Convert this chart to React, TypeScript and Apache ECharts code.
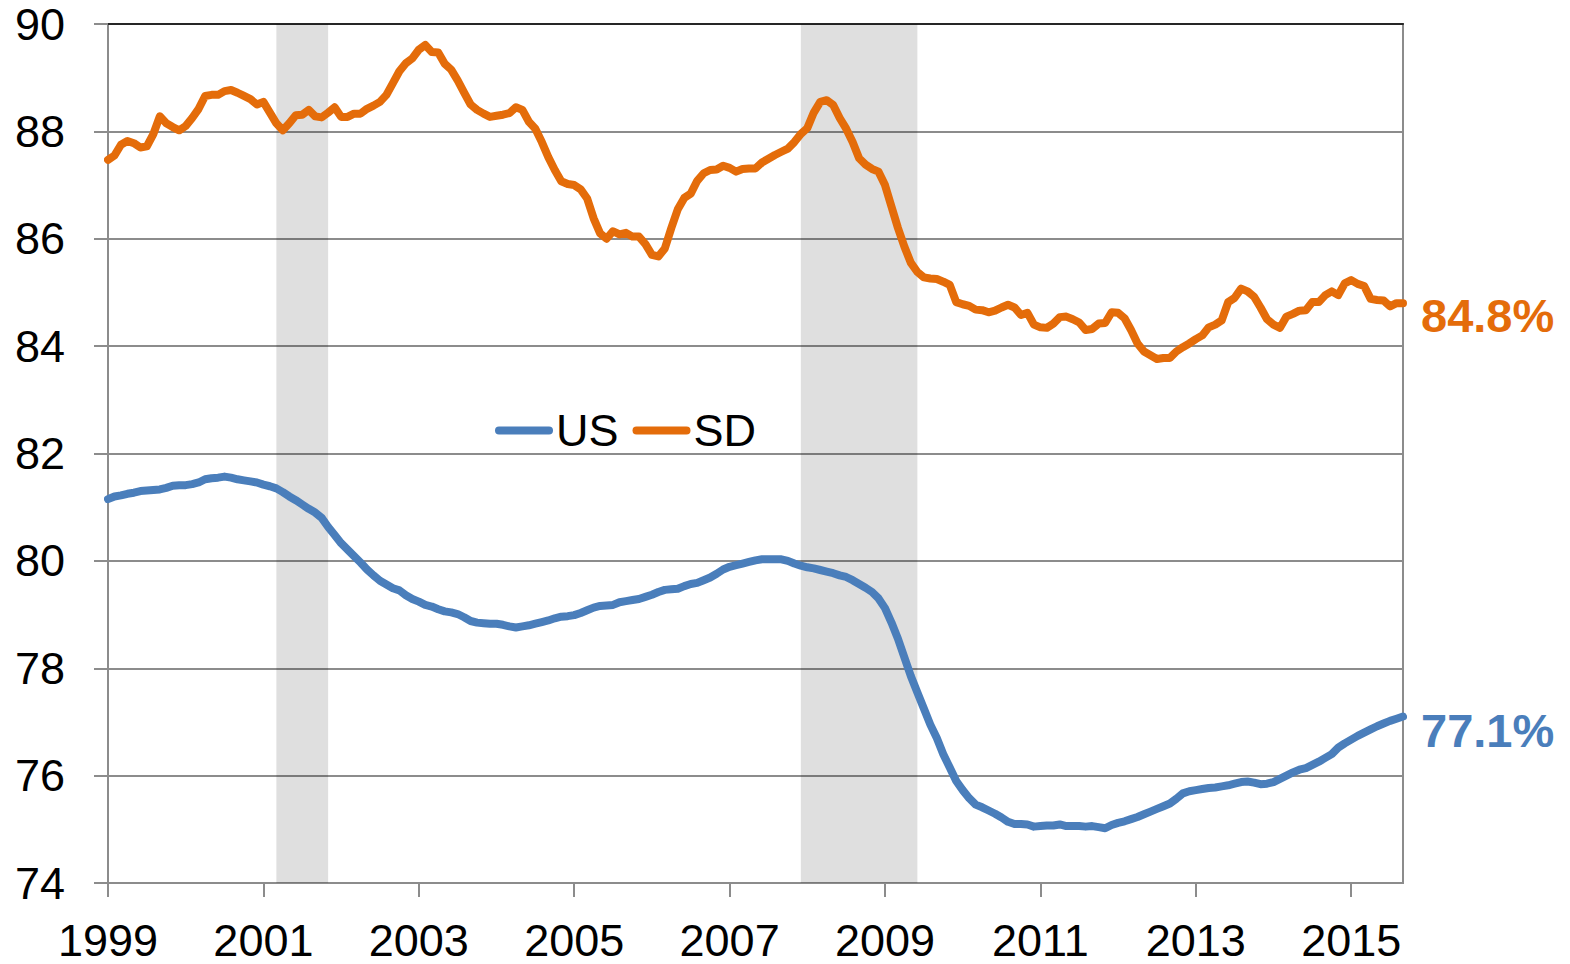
import React, { useEffect, useRef } from "react";
import * as echarts from "echarts";

// Monthly observations, Jan 1999 .. Sep 2015
const startYear = 1999;
const monthCount = 201;
const categories: string[] = [];
for (let i = 0; i < monthCount; i++) {
  const y = startYear + Math.floor(i / 12);
  const m = (i % 12) + 1;
  categories.push(`${y}-${String(m).padStart(2, "0")}`);
}

const usValues: number[] = [
  81.15, 81.2, 81.22, 81.25, 81.27, 81.3, 81.31, 81.32, 81.33, 81.36, 81.4, 81.41,
  81.41, 81.43, 81.46, 81.52, 81.54, 81.55, 81.57, 81.55, 81.52, 81.5, 81.48, 81.46,
  81.42, 81.39, 81.35, 81.28, 81.2, 81.13, 81.05, 80.97, 80.9, 80.8, 80.63, 80.48,
  80.33, 80.21, 80.09, 79.97, 79.84, 79.73, 79.63, 79.56, 79.49, 79.45, 79.36, 79.29,
  79.24, 79.18, 79.15, 79.1, 79.06, 79.04, 79.01, 78.95, 78.88, 78.85, 78.84, 78.83,
  78.83, 78.81, 78.78, 78.76, 78.78, 78.8, 78.83, 78.86, 78.89, 78.93, 78.96, 78.97,
  78.99, 79.03, 79.08, 79.13, 79.16, 79.17, 79.18, 79.23, 79.25, 79.27, 79.29, 79.33,
  79.37, 79.42, 79.46, 79.47, 79.48, 79.53, 79.57, 79.59, 79.64, 79.69, 79.76, 79.84,
  79.89, 79.92, 79.95, 79.98, 80.01, 80.03, 80.03, 80.03, 80.03, 80.0, 79.95, 79.91,
  79.88, 79.86, 79.83, 79.8, 79.77, 79.73, 79.7, 79.64, 79.57, 79.5, 79.42, 79.3,
  79.12, 78.85, 78.55, 78.2, 77.85, 77.55, 77.25, 76.95, 76.7, 76.4, 76.15, 75.9,
  75.73, 75.58, 75.46, 75.41, 75.35, 75.29, 75.22, 75.14, 75.1, 75.1, 75.09, 75.05,
  75.06, 75.07, 75.07, 75.09, 75.06, 75.06, 75.06, 75.05, 75.06, 75.04, 75.02, 75.08,
  75.12, 75.15, 75.19, 75.23, 75.28, 75.33, 75.38, 75.43, 75.48, 75.57, 75.67, 75.71,
  75.73, 75.75, 75.77, 75.78, 75.8, 75.82, 75.85, 75.88, 75.89, 75.87, 75.84, 75.85,
  75.88, 75.94, 76.0, 76.06, 76.11, 76.14, 76.2, 76.26, 76.33, 76.4, 76.52, 76.6,
  76.67, 76.74, 76.8, 76.86, 76.92, 76.97, 77.02, 77.06, 77.1,
];

const sdValues: number[] = [
  87.47, 87.55, 87.75, 87.82, 87.78, 87.7, 87.72, 87.95, 88.28, 88.15, 88.08, 88.02,
  88.1, 88.25, 88.42, 88.66, 88.68, 88.68, 88.75, 88.77, 88.72, 88.66, 88.6, 88.5,
  88.55, 88.35, 88.15, 88.02, 88.15, 88.3, 88.31, 88.4, 88.28, 88.26, 88.35, 88.45,
  88.27, 88.27, 88.33, 88.33, 88.42, 88.48, 88.55, 88.68, 88.9, 89.12, 89.27, 89.36,
  89.52, 89.61, 89.48, 89.47, 89.26, 89.15, 88.95, 88.72, 88.5, 88.4, 88.33, 88.27,
  88.29, 88.31, 88.34, 88.45, 88.4, 88.18, 88.05, 87.8, 87.52, 87.28, 87.07, 87.02,
  87.0, 86.92, 86.75, 86.38, 86.1, 86.0, 86.14, 86.08, 86.11, 86.04, 86.04, 85.9,
  85.7, 85.67, 85.82, 86.2, 86.55, 86.76, 86.84, 87.08, 87.22, 87.28, 87.29, 87.36,
  87.32, 87.25, 87.3, 87.31, 87.31, 87.42, 87.49, 87.56, 87.62, 87.68, 87.8, 87.95,
  88.06, 88.35, 88.55, 88.58, 88.49, 88.25, 88.05, 87.8, 87.5, 87.38, 87.3, 87.25,
  87.0, 86.6, 86.2, 85.85, 85.55, 85.38, 85.28, 85.26, 85.25, 85.2, 85.14, 84.82,
  84.78, 84.75, 84.68, 84.67, 84.63, 84.66, 84.72, 84.77, 84.72, 84.58, 84.62, 84.4,
  84.35, 84.34, 84.42, 84.54, 84.55, 84.5, 84.44, 84.3, 84.32, 84.42, 84.43, 84.63,
  84.62, 84.52, 84.3, 84.05, 83.9, 83.83, 83.76, 83.78, 83.78, 83.9, 83.98, 84.05,
  84.13, 84.2, 84.35, 84.4, 84.48, 84.82, 84.9, 85.07, 85.02, 84.92, 84.72, 84.5,
  84.4, 84.34, 84.55, 84.6, 84.66, 84.67, 84.82, 84.82, 84.95, 85.02, 84.95, 85.17,
  85.23, 85.16, 85.12, 84.88, 84.86, 84.85, 84.74, 84.8, 84.8,
];

const recessions: [string, string][] = [
  ["2001-03", "2001-11"],
  ["2007-12", "2009-06"],
];

const yTicks = { min: 74, max: 90, interval: 2 };

const FONT = '"Liberation Sans", Arial, sans-serif';
const BLUE = "#4a7ebb";
const ORANGE = "#e46c0a";
const GRID_GRAY = "#8c8c8c";

export default function App() {
  const ref = useRef<HTMLDivElement>(null);

  useEffect(() => {
    if (!ref.current) return;
    const chart = echarts.init(ref.current, null, { renderer: "svg" });
    const yearTick = (index: number) => index % 24 === 0;
    const capsule = "path://M4,0 L54,0 A4,4 0 0 1 54,8 L4,8 A4,4 0 0 1 4,0 Z";

    chart.setOption({
      animation: false,
      backgroundColor: "#ffffff",
      grid: {
        left: 108,
        right: 167,
        top: 24,
        bottom: 81,
        show: true,
        borderColor: GRID_GRAY,
        borderWidth: 2,
        containLabel: false,
      },
      legend: {
        left: 490,
        top: 403,
        itemWidth: 58,
        itemHeight: 8,
        itemGap: 14,
        data: [
          { name: "US", icon: capsule },
          { name: "SD", icon: capsule },
        ],
        textStyle: { fontFamily: FONT, fontSize: 45, color: "#000", padding: [0, 0, 0, -2] },
      },
      xAxis: [
        {
          type: "category",
          data: categories,
          boundaryGap: false,
          axisLine: { lineStyle: { color: GRID_GRAY, width: 2 } },
          axisTick: {
            show: true,
            interval: yearTick,
            length: 14,
            lineStyle: { color: GRID_GRAY, width: 2 },
          },
          axisLabel: {
            interval: yearTick,
            formatter: (v: string) => v.slice(0, 4),
            fontFamily: FONT,
            fontSize: 45,
            lineHeight: 34,
            color: "#000",
            margin: 40,
          },
          splitLine: { show: false },
        },
        {
          type: "category",
          data: categories,
          boundaryGap: false,
          position: "top",
          axisLine: { lineStyle: { color: "#262626", width: 2 } },
          axisTick: { show: false },
          axisLabel: { show: false },
          splitLine: { show: false },
        },
      ],
      yAxis: {
        type: "value",
        min: yTicks.min,
        max: yTicks.max,
        interval: yTicks.interval,
        axisLine: { show: true, lineStyle: { color: GRID_GRAY, width: 2 } },
        axisTick: { show: true, length: 14, lineStyle: { color: GRID_GRAY, width: 2 } },
        axisLabel: { fontFamily: FONT, fontSize: 45, lineHeight: 34, color: "#000", margin: 43 },
        splitLine: { lineStyle: { color: GRID_GRAY, width: 2 } },
      },
      series: [
        {
          name: "US",
          type: "line",
          data: usValues,
          symbol: "none",
          z: 3,
          lineStyle: { color: BLUE, width: 8, cap: "round", join: "round" },
          itemStyle: { color: BLUE },
          endLabel: {
            show: true,
            formatter: (p: any) => `${Number(p.value).toFixed(1)}%`,
            color: BLUE,
            fontFamily: FONT,
            fontWeight: "bold",
            fontSize: 47,
            distance: 18,
            offset: [0, 14],
          },
          markArea: {
            silent: true,
            itemStyle: { color: "rgba(0,0,0,0.125)" },
            data: recessions.map(([a, b]) => [{ xAxis: a }, { xAxis: b }]),
          },
        },
        {
          name: "SD",
          type: "line",
          data: sdValues,
          symbol: "none",
          z: 3,
          lineStyle: { color: ORANGE, width: 8, cap: "round", join: "round" },
          itemStyle: { color: ORANGE },
          endLabel: {
            show: true,
            formatter: (p: any) => `${Number(p.value).toFixed(1)}%`,
            color: ORANGE,
            fontFamily: FONT,
            fontWeight: "bold",
            fontSize: 47,
            distance: 18,
            offset: [0, 12],
          },
        },
      ],
    });

    return () => chart.dispose();
  }, []);

  return (
    <div
      ref={ref}
      style={{ position: "fixed", left: 0, top: 0, width: 1570, height: 964, background: "#fff" }}
    />
  );
}
